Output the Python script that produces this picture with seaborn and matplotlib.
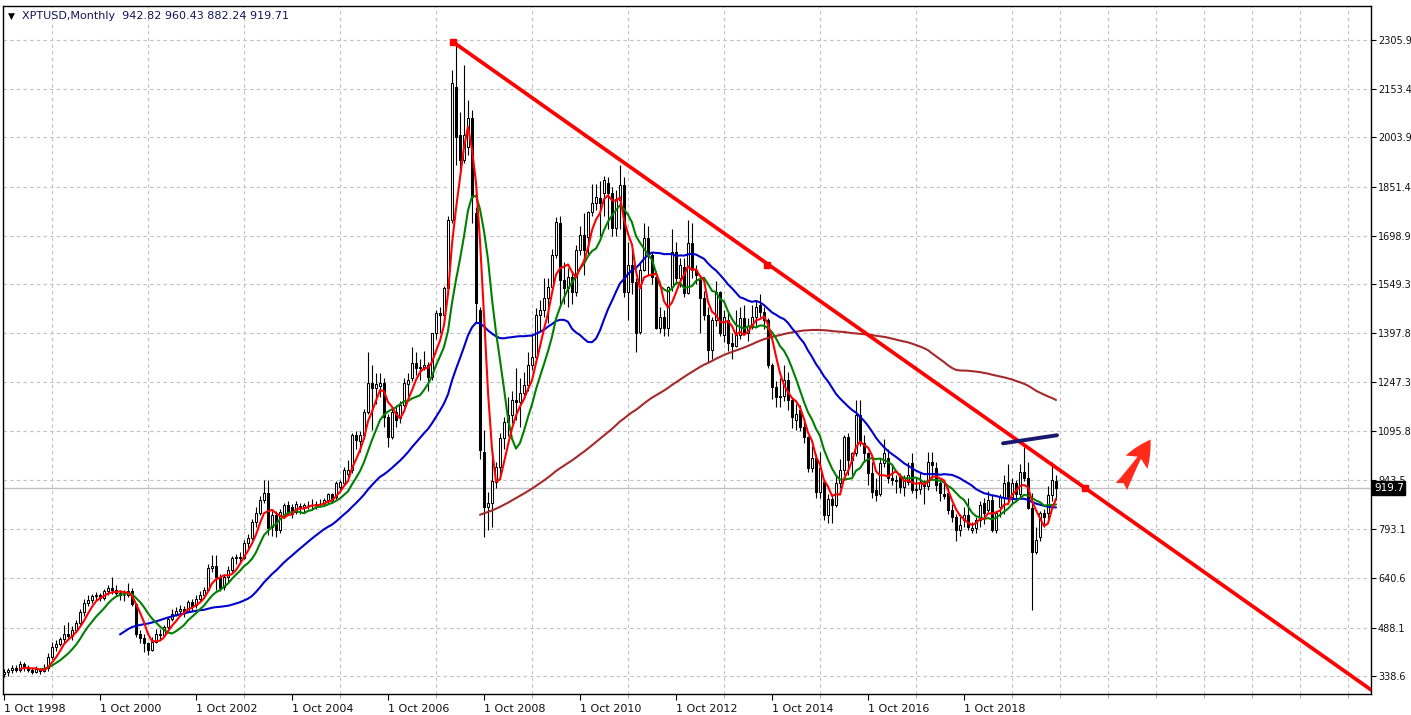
"""
XPTUSD monthly candles with moving averages and a falling trendline,
drawn MT4-style.
"""
import matplotlib
matplotlib.use("Agg")
import matplotlib.pyplot as plt
from matplotlib.patches import FancyArrowPatch
from matplotlib.ticker import FixedLocator
import numpy as np
import pandas as pd
import seaborn as sns

# ── Data: monthly bars Oct 1998 .. Sep 2020 (one line per calendar year) ──────
opens = [
    345, 350, 356,
    362, 358, 375, 366, 358, 352, 360, 354, 362, 398, 428, 438,
    452, 470, 462, 482, 502, 535, 565, 575, 585, 590, 580, 600,
    612, 605, 595, 588, 590, 600, 560, 470, 455, 440, 420, 445,
    470, 465, 490, 515, 530, 540, 545, 540, 568, 558, 578, 588,
    605, 672, 680, 645, 614, 645, 666, 703, 707, 705, 750, 765,
    815, 843, 883, 904, 800, 836, 790, 836, 867, 860, 846, 865,
    860, 866, 868, 866, 870, 873, 883, 900, 892, 923, 935, 962,
    975, 1083, 1065, 1083, 1155, 1244, 1229, 1235, 1244, 1139, 1077, 1155,
    1136, 1176, 1240, 1260, 1306, 1290, 1295, 1300, 1264, 1398, 1460, 1455,
    1538, 1748, 2160, 2011, 1934, 1974, 2063, 1770, 1470, 1031, 861, 873,
    938, 985, 1074, 1124, 1145, 1192, 1185, 1214, 1238, 1300, 1325, 1455,
    1470, 1507, 1541, 1640, 1739, 1563, 1538, 1572, 1525, 1655, 1702, 1695,
    1773, 1800, 1816, 1832, 1862, 1832, 1724, 1810, 1856, 1526, 1610, 1557,
    1402, 1594, 1693, 1640, 1572, 1414, 1448, 1414, 1541, 1650, 1570, 1603,
    1522, 1677, 1594, 1563, 1507, 1455, 1346, 1440, 1526, 1393, 1440, 1368,
    1360, 1392, 1445, 1400, 1418, 1448, 1485, 1464, 1440, 1300, 1232, 1200,
    1205, 1254, 1192, 1130, 1161, 1108, 1077, 982, 1013, 907, 938, 835,
    885, 867, 935, 975, 1077, 1006, 1028, 1145, 1059, 1028, 966, 913,
    900, 997, 1013, 950, 945, 954, 923, 938, 997, 913, 917, 938,
    925, 1000, 982, 935, 900, 904, 852, 830, 790, 820, 836, 790,
    795, 820, 873, 852, 883, 790, 861, 892, 938, 892, 935, 900,
    969, 950, 858, 722, 768, 842, 842, 898, 942.82,
]
highs = [
    360, 362, 372,
    372, 385, 382, 372, 365, 368, 362, 375, 410, 445, 450, 460,
    496, 505, 492, 512, 545, 578, 588, 592, 598, 596, 608, 620,
    645, 620, 605, 605, 625, 612, 565, 480, 470, 445, 458, 485,
    485, 495, 520, 545, 552, 558, 555, 575, 578, 590, 600, 615,
    685, 713, 713, 655, 650, 680, 710, 715, 722, 760, 778, 825,
    860, 895, 944, 944, 850, 850, 855, 875, 880, 870, 880, 875,
    875, 880, 885, 880, 885, 890, 905, 905, 940, 945, 985, 1006,
    1090, 1095, 1095, 1165, 1340, 1300, 1275, 1275, 1260, 1150, 1165, 1175,
    1190, 1260, 1275, 1356, 1340, 1320, 1345, 1310, 1400, 1470, 1480, 1545,
    1760, 2212, 2305, 2083, 2228, 2119, 2090, 1790, 1480, 1100, 908, 1037,
    1000, 1090, 1140, 1200, 1220, 1290, 1260, 1280, 1340, 1395, 1475, 1500,
    1570, 1570, 1660, 1757, 1760, 1620, 1600, 1590, 1670, 1730, 1770, 1775,
    1860, 1860, 1870, 1885, 1880, 1850, 1840, 1919, 1880, 1680, 1660, 1570,
    1620, 1740, 1730, 1650, 1590, 1480, 1470, 1545, 1720, 1680, 1630, 1630,
    1750, 1740, 1610, 1580, 1530, 1480, 1450, 1560, 1530, 1470, 1460, 1400,
    1470, 1480, 1485, 1445, 1485, 1500, 1520, 1480, 1445, 1305, 1250, 1260,
    1300, 1280, 1200, 1180, 1175, 1125, 1080, 1050, 1025, 1030, 945, 900,
    900, 960, 1010, 1085, 1090, 1030, 1192, 1192, 1085, 1030, 1000, 950,
    1010, 1070, 1040, 990, 960, 965, 960, 1000, 1028, 950, 965, 945,
    1031, 1030, 1000, 945, 940, 920, 870, 840, 840, 860, 890, 815,
    830, 880, 890, 910, 900, 850, 900, 960, 995, 950, 945, 995,
    1046, 1000, 905, 800, 850, 855, 925, 1000, 960.43,
]
lows = [
    335, 340, 348,
    350, 352, 355, 350, 345, 348, 345, 350, 355, 390, 415, 430,
    440, 455, 450, 475, 495, 525, 555, 565, 575, 570, 575, 590,
    592, 585, 575, 570, 582, 555, 460, 440, 412, 405, 415, 440,
    450, 462, 485, 510, 525, 525, 520, 535, 540, 550, 570, 580,
    600, 660, 605, 600, 605, 630, 660, 685, 690, 700, 735, 760,
    800, 835, 875, 775, 770, 768, 780, 830, 835, 828, 840, 840,
    845, 855, 855, 855, 860, 865, 870, 875, 885, 915, 930, 950,
    965, 1040, 1030, 1070, 1150, 1100, 1180, 1200, 1110, 1046, 1070, 1110,
    1120, 1170, 1205, 1250, 1270, 1255, 1285, 1220, 1255, 1380, 1400, 1430,
    1520, 1740, 1920, 1900, 1925, 1950, 1740, 1430, 1010, 768, 790, 800,
    920, 960, 1040, 1080, 1120, 1130, 1110, 1200, 1220, 1285, 1310, 1405,
    1450, 1430, 1530, 1630, 1480, 1490, 1480, 1490, 1515, 1640, 1580, 1640,
    1760, 1780, 1700, 1760, 1720, 1700, 1700, 1720, 1510, 1440, 1520, 1340,
    1395, 1590, 1580, 1550, 1410, 1400, 1390, 1390, 1530, 1550, 1540, 1510,
    1520, 1570, 1550, 1400, 1440, 1309, 1320, 1420, 1390, 1370, 1345, 1320,
    1355, 1380, 1395, 1375, 1410, 1420, 1450, 1410, 1290, 1195, 1170, 1170,
    1190, 1160, 1105, 1100, 1095, 1060, 970, 970, 890, 890, 820, 812,
    812, 860, 920, 960, 960, 960, 1020, 1050, 1000, 930, 890, 880,
    895, 985, 935, 930, 905, 905, 895, 930, 905, 890, 900, 870,
    915, 950, 910, 880, 885, 840, 815, 755, 770, 800, 790, 780,
    780, 800, 810, 845, 785, 780, 830, 840, 880, 870, 880, 890,
    940, 855, 543, 715, 755, 800, 815, 880, 882.24,
]
closes = [
    350, 356, 362,
    358, 375, 366, 358, 352, 360, 354, 362, 398, 428, 438, 452,
    470, 462, 482, 502, 535, 565, 575, 585, 590, 580, 600, 612,
    605, 595, 588, 590, 600, 560, 470, 455, 440, 420, 445, 470,
    465, 490, 515, 530, 540, 545, 540, 568, 555, 578, 588, 605,
    672, 680, 645, 610, 645, 666, 703, 707, 705, 750, 765, 815,
    843, 883, 904, 796, 836, 790, 846, 867, 846, 840, 870, 860,
    866, 868, 866, 870, 870, 883, 900, 883, 935, 938, 975, 975,
    1083, 1068, 1083, 1155, 1244, 1229, 1240, 1244, 1139, 1077, 1155, 1130,
    1176, 1244, 1255, 1306, 1290, 1295, 1300, 1264, 1398, 1460, 1455, 1538,
    1748, 2172, 2005, 1934, 2011, 2063, 1820, 1492, 1037, 861, 873, 940,
    985, 1074, 1124, 1145, 1192, 1185, 1214, 1238, 1300, 1325, 1455, 1470,
    1507, 1541, 1640, 1742, 1563, 1538, 1572, 1525, 1655, 1702, 1655, 1773,
    1800, 1820, 1800, 1872, 1832, 1724, 1812, 1856, 1526, 1610, 1557, 1399,
    1594, 1693, 1640, 1572, 1414, 1448, 1414, 1541, 1650, 1568, 1610, 1522,
    1677, 1594, 1577, 1507, 1455, 1346, 1440, 1526, 1399, 1448, 1368, 1360,
    1392, 1445, 1400, 1420, 1448, 1479, 1464, 1440, 1300, 1232, 1200, 1205,
    1254, 1192, 1140, 1150, 1108, 1077, 982, 1013, 907, 982, 835, 885,
    867, 935, 975, 1077, 1006, 1028, 1145, 1059, 1028, 966, 907, 898,
    997, 1028, 950, 945, 940, 923, 950, 960, 913, 918, 938, 925,
    1000, 990, 929, 904, 895, 852, 830, 790, 806, 836, 800, 795,
    820, 867, 842, 883, 790, 842, 892, 935, 892, 935, 900, 969,
    950, 858, 722, 759, 842, 830, 898, 944, 919.71,
]

ma_periods = [120, 30, 10, 5]
ma_colors = ["#a52a2a", "#0000cd", "#008000", "#ff0000"]

price_ticks = [2305.9, 2153.4, 2003.9, 1851.4, 1698.9, 1549.3, 1397.8,
               1247.3, 1095.8, 943.5, 793.1, 640.6, 488.1, 338.6]
price_tick_labels = ["2305.9", "2153.4", "2003.9", "1851.4", "1698.9", "1549.3",
                     "1397.8", "1247.3", "1095.8", "943.5", "793.1", "640.6",
                     "488.1", "338.6"]

# drawn objects, in (bar index, price)
trend_bars = [112.25, 190.75, 270.25]
trend_prices = [2299, 1609, 920]
flat_line_bars = [249.75, 263.25]
flat_line_prices = [1058, 1083]
arrow_bars = [279, 287]
arrow_prices = [917, 1077]

header = "XPTUSD,Monthly  942.82 960.43 882.24 919.71"
last_price = 919.71

# ── Build frame ──────────────────────────────────────────────────────────────
dates = pd.date_range("1998-10-01", periods=len(closes), freq="MS")
df = pd.DataFrame({"open": opens, "high": highs, "low": lows, "close": closes},
                  index=dates)
df["i"] = np.arange(len(df))
for p in ma_periods:
    df[f"ma{p}"] = df["close"].rolling(p).mean()

sns.set_theme(style="white")
plt.rcParams["font.family"] = ["DejaVu Sans"]

W, H = 1411, 715
fig = plt.figure(figsize=(W / 100, H / 100), dpi=100)
ax = fig.add_axes([3 / W, (H - 694) / H, (1371 - 3) / W, (694 - 6) / H])

x_right = 341.75
ax.set_xlim(-0.25, x_right)
ax.set_ylim(338.6 - 18 * 3.092, 338.6 + 670 * 3.092)

# grid
ax.xaxis.set_major_locator(FixedLocator(np.arange(0, 241, 24)))
ax.xaxis.set_minor_locator(FixedLocator(np.arange(0, 341, 12)))
ax.set_xticklabels([f"1 Oct {d.year}" for d in dates[::24]], fontsize=8,
                   ha="left", color="#101010")
ax.grid(which="minor", axis="x", color="#c0c0c0", ls=(0, (3, 3)), lw=0.8)
ax.set_yticks(price_ticks)
ax.set_yticklabels(price_tick_labels, fontsize=7, color="#101010")
ax.grid(which="major", axis="y", color="#c0c0c0", ls=(0, (3, 3)), lw=0.8)
ax.yaxis.tick_right()
ax.tick_params(axis="y", which="major", direction="out", length=3.5, width=0.8,
               color="black", pad=1.5, right=True, left=False)
ax.tick_params(axis="x", which="major", direction="out", length=4, width=0.8,
               color="black", pad=3, bottom=True)
ax.tick_params(axis="x", which="minor", direction="out", length=3, width=0.8,
               color="#b0b0b0", bottom=True)
for s in ax.spines.values():
    s.set_color("black")
    s.set_linewidth(1.0)

# last price line
ax.axhline(last_price, color="#c0c0c0", lw=1.0, zorder=1)

# candles
up = df["close"] >= df["open"]
ax.vlines(df["i"], df["low"], df["high"], color="black", lw=0.8, zorder=2)
ax.bar(df["i"][up], (df["close"] - df["open"])[up], bottom=df["open"][up],
       width=0.68, color="white", edgecolor="black", lw=0.75, zorder=3)
ax.bar(df["i"][~up], (df["open"] - df["close"])[~up], bottom=df["close"][~up],
       width=0.68, color="black", edgecolor="black", lw=0.75, zorder=3)

# moving averages
for p, c in zip(ma_periods, ma_colors):
    sns.lineplot(data=df, x="i", y=f"ma{p}", ax=ax, color=c, lw=1.5,
                 zorder=4, legend=False)
ax.set_xlabel("")
ax.set_ylabel("")

# falling trendline as a ray through its anchors
slope = (trend_prices[-1] - trend_prices[0]) / (trend_bars[-1] - trend_bars[0])
ray_x = [trend_bars[0], x_right + 1]
ray_y = [trend_prices[0], trend_prices[0] + slope * (x_right + 1 - trend_bars[0])]
ax.plot(ray_x, ray_y, color="#ff0000", lw=2.7, zorder=5, solid_capstyle="butt")
ax.plot(trend_bars, trend_prices, ls="none", marker="s", ms=4.5,
        color="#ff0000", zorder=6)

ax.plot(flat_line_bars, flat_line_prices, color="#191970", lw=2.8, zorder=5,
        solid_capstyle="round")

ax.add_patch(FancyArrowPatch(
    (arrow_bars[0], arrow_prices[0]), (arrow_bars[1], arrow_prices[1]),
    arrowstyle="fancy,head_length=1.2,head_width=1.15,tail_width=0.6",
    mutation_scale=16, color="#ff2a1a", lw=0, zorder=6))

# current price tag
ax.text(1.0 + 3 / W, last_price, "919.7", transform=ax.get_yaxis_transform(),
        ha="left", va="center", fontsize=7.6, color="white", zorder=10,
        bbox=dict(boxstyle="square,pad=0.15", fc="black", ec="black"),
        clip_on=False)

# header
fig.text(8 / W, 1 - 16 / H, "\u25bc", fontsize=6.5, color="black",
         va="center", ha="left")
fig.text(22 / W, 1 - 16 / H, header, fontsize=8, color="#14145a",
         va="center", ha="left")

fig.savefig("out.png", dpi=100)
